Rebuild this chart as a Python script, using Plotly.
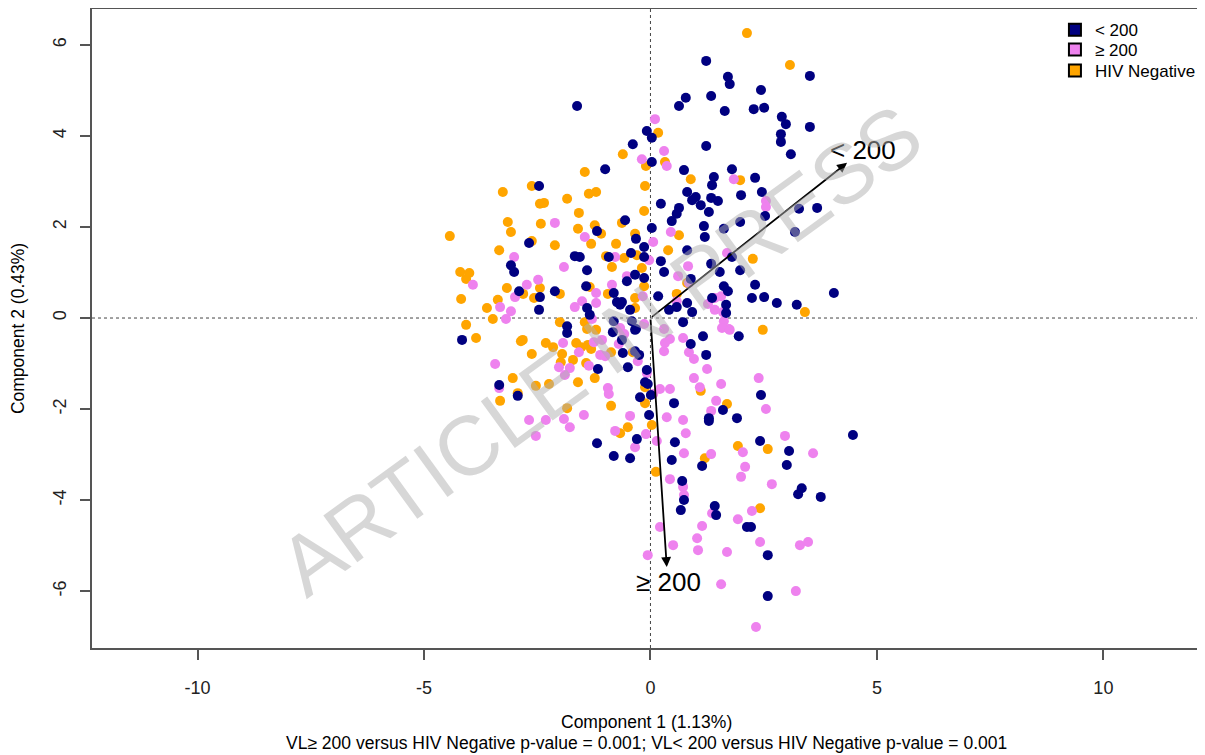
import plotly.graph_objects as go

# ---- data (Component 1, Component 2) ----
lt200_x = [-1.62, -1.00, -0.39, -0.08, 0.03, 0.03, 1.23, 3.52, 1.71, 1.75, 2.44, 1.34, 0.78, 0.63, 1.64, 2.28,
           2.51, 2.90, 2.99, 3.52, 2.88, 2.88, 3.10, 1.23, 0.74, 1.80, 1.40, 2.31, -2.46, -0.56, -1.18, -0.32,
           0.03, -2.68, -0.14, -1.67, -1.56, -0.92, -0.43, -0.14, -3.08, -3.01, -1.40, -0.52, -0.34, -0.14,
           -2.90, -2.11, -1.42, -0.81, -2.44, -0.74, -0.63, -2.46, -1.40, -0.67, -0.45, -1.34, -0.81, -0.41,
           -1.84, -0.32, -4.16, -1.84, -0.83, -0.34, -0.63, -0.61, -0.34, -0.25, -1.16, -0.50, -0.08, -0.12,
           -0.06, -3.34, -2.93, -0.23, 0.01, -0.03, -0.30, -1.18, -0.81, -0.45,
           1.36, 0.81, 1.00, 0.92, 1.34, 1.49, 2.00, 2.46, 0.23, 1.11, 0.63, 1.29, 0.58, 0.47, 3.28, 3.68,
           2.53, 1.98, 1.18, 1.62, 3.19, 1.20, 0.81, 1.80, 0.23, 1.34, 0.30, 1.53, 1.98, 0.89, 1.62, 2.31,
           1.71, 0.17, 0.81, 0.58, 0.41, 0.92, 2.24, 2.51, 2.79, 3.23, 4.05, 1.36, 1.67, 1.67, 0.72,
           1.95, 1.16, 0.89, 1.23, 2.44, 0.52, 1.60, 1.29, 1.29, 1.91, 4.47, 2.42, 0.54, 3.06, 0.47, 1.14,
           3.01, 0.70, 0.74, 0.67, 3.34, 3.26, 3.76, 1.42, 1.45, 2.13, 2.22, 2.59, 2.59]
lt200_y = [4.66, 3.27, 3.82, 4.11, 3.96, 3.43, 5.65, 5.32, 5.30, 5.14, 5.01, 4.88, 4.84, 4.66, 4.55, 4.59,
           4.62, 4.42, 4.26, 4.20, 4.04, 3.87, 3.60, 3.78, 3.25, 3.27, 3.10, 3.08, 2.90, 2.15, 1.91, 1.74,
           1.98, 1.65, 1.56, 1.36, 1.34, 1.34, 1.43, 1.34, 1.16, 1.01, 1.05, 0.81, 0.95, 0.88,
           0.59, 0.59, 0.70, 0.55, 0.46, 0.35, 0.35, 0.18, 0.22, 0.29, 0.18, 0.07, -0.07, -0.07,
           -0.18, -0.24, -0.48, -0.33, -0.31, -0.26, -0.48, -0.77, -0.73, -0.81, -1.12, -1.08, -1.14, -1.41,
           -1.45, -1.47, -1.71, -1.74, -1.69, -2.13, -2.66, -2.75, -3.03, -3.08,
           2.92, 2.77, 2.66, 2.59, 2.64, 2.57, 2.70, 2.77, 2.51, 2.48, 2.42, 2.33, 2.29, 2.13, 2.40, 2.42,
           2.24, 2.11, 2.02, 1.96, 1.89, 1.78, 1.49, 1.34, 1.25, 1.19, 1.01, 1.01, 1.05, 0.86, 0.70, 0.73,
           0.59, 0.48, 0.33, 0.24, 0.18, 0.13, 0.44, 0.46, 0.33, 0.29, 0.55, 0.44, 0.29, 0.11, -0.09,
           -0.40, -0.40, -0.57, -0.81, -1.69, -1.87, -2.02, -2.20, -2.26, -2.20, -2.57, -2.70, -2.73, -2.92, -3.12, -3.25,
           -3.23, -3.58, -4.00, -4.22, -3.74, -3.87, -3.93, -4.13, -4.33, -4.59, -4.59, -5.21, -6.11]

ge200_x = [-0.19, 0.10, 0.30, 0.36, 1.84, -2.11, -1.45, 0.06, -0.78, -0.03, -3.01, -1.91, -3.92, -2.73, -2.48,
           -0.52, -0.85, -1.20, -0.17, -2.99, -1.51, -1.20, -3.32, -3.08, -1.67, -3.19, -1.29, -0.67, -0.14,
           -0.58, -1.93, -1.25, -1.07, -1.58, -1.11, -1.00, -0.70, -3.43, -2.02, -1.78, -1.36, -0.28, -1.89,
           -0.08, -3.34, -0.94, -0.92, -1.47, -0.45, -2.68, -2.31, -1.91, -1.78, -0.78, -2.53, -0.10, -0.34,
           2.55, 2.55, 0.45, 1.69, 0.83, 0.61, 0.85, 0.58, 1.27, 1.42, 1.56, 1.42, 1.60, 1.62, 1.73,
           0.30, 1.58, 1.75, 0.43, 0.72, 0.32, 0.30, 0.85, 0.96, 1.25, 0.96, 2.39, 1.09, 1.56, 0.43, 0.21,
           0.06, 1.45, 2.55, 1.34, 0.36, 0.72, 0.78, 2.97, 0.14, 2.04, 3.59, 0.74, 1.34, 2.09, 2.00, 0.43,
           0.72, 0.74, 2.68, 2.24, 1.36, 1.93, 1.14, 0.21, 1.03, 2.42, 3.30, 3.48, 0.50, 1.05, 1.69, -0.06,
           1.56, 3.21, 2.33]
ge200_y = [3.49, 4.37, 3.67, 3.34, 3.05, 2.09, 1.78, 1.67, 1.34, 1.27, 1.34, 1.12, 0.73, 0.73, 0.84,
           0.92, 0.73, 0.55, 0.48, 0.46, 0.37, 0.33, 0.24, 0.15, 0.24, -0.02, -0.02, -0.22, -0.13,
           -0.35, -0.55, -0.53, -0.48, -0.75, -0.81, -0.84, -0.57, -1.01, -1.08, -1.10, -1.05, -0.95, -1.25,
           -1.21, -1.54, -1.54, -1.67, -2.13, -2.15, -2.24, -2.24, -2.22, -2.40, -2.48, -2.59, -2.55, -2.84,
           2.57, 2.44, 1.89, 1.43, 1.14, 0.92, 0.77, 0.37, 0.31, 0.44, 0.48, 0.18, 0.13, -0.07, -0.24,
           -0.24, -0.22, -0.26, -0.46, -0.44, -0.55, -0.73, -0.75, -0.90, -1.12, -1.32, -1.32, -1.52, -1.45, -1.56, -1.56,
           -1.67, -1.82, -2.00, -2.04, -2.18, -2.24, -2.53, -2.59, -2.70, -2.95, -2.97, -2.97, -2.99, -3.27, -3.49, -3.54,
           -3.71, -3.89, -3.65, -4.24, -4.29, -4.42, -4.57, -4.59, -4.84, -4.92, -4.99, -4.92, -4.99, -5.10, -5.14, -5.21,
           -5.85, -6.00, -6.79]

neg_x = [-1.45, -0.61, -0.10, 2.13, 3.08, 0.17, 0.32, 0.89, 1.98, -3.26, -2.62, -1.36, -1.20, -2.44, -2.35,
         -1.84, -0.12, -1.58, -0.14, -3.15, -3.08, -2.42, -0.63, -1.23, -1.09, -1.60, -0.34, -4.43, -2.62,
         -2.11, -1.31, -0.76, -3.34, -0.98, -0.30, -0.58, -0.85, -0.19, -4.20, -4.00, -4.07, -2.44, -3.17,
         -2.81, -2.00, -1.34, -0.94, -0.14, -2.57, -4.18, -3.37, -0.34, -3.61, -0.34, -3.48, -2.00, -1.45,
         -4.07, -3.85, -2.86, -2.82, -1.40, -1.20, -2.31, -2.15, -1.64, -1.53, -1.38, -1.31, -2.62, -1.95,
         -1.71, -0.87, -0.39, -1.98, -1.42, -1.23, -3.04, -1.60, -0.12, -2.53, -2.24, -2.93, -3.32, -1.84,
         -0.87, -0.12, -0.50, -0.67, 0.03,
         0.63, 0.39, 2.26, 0.81, 0.58, 3.41, 2.48, 1.11, 1.69, 1.93, 2.59, 1.20, 0.12, 2.42]
neg_y = [3.21, 3.60, 3.34, 6.26, 5.56, 4.07, 3.43, 3.05, 3.03, 2.77, 2.90, 2.73, 2.77, 2.51, 2.53,
         2.62, 2.90, 2.31, 2.35, 2.11, 1.89, 2.07, 2.09, 2.04, 1.85, 1.96, 1.85, 1.80, 1.69,
         1.60, 1.63, 1.63, 1.49, 1.36, 1.38, 1.32, 1.12, 1.10, 1.01, 0.99, 0.86, 0.66, 0.66,
         0.53, 0.53, 0.68, 0.53, 0.70, 0.44, 0.42, 0.40, 0.44, 0.22, 0.22, -0.02, -0.09, -0.09,
         -0.15, -0.44, -0.51, -0.48, -0.24, -0.26, -0.55, -0.64, -0.55, -0.64, -0.59, -0.68, -0.79, -0.79,
         -0.92, -0.75, -0.75, -0.97, -0.99, -1.32, -1.32, -1.41, -1.52, -1.49, -1.45, -1.65, -1.82, -1.98,
         -1.93, -1.87, -2.40, -2.53, -2.35,
         1.82, 1.49, 1.30, 0.77, 0.53, 0.13, -0.26, -1.60, -1.89, -2.81, -2.88, -3.08, -3.38, -4.18]

group_names = ["< 200", "\u2265 200", "HIV Negative"]
group_colors = ["#000080", "#EE82EE", "#FFA500"]

# loading arrows (end points) and their labels
arrow_labels = ["< 200", "\u2265 200"]
arrow_x = [4.34, 0.36]
arrow_y = [3.41, -5.47]
label_x = [4.69, 0.39]
label_y = [3.69, -5.80]

x_ticks = [-10, -5, 0, 5, 10]
y_ticks = [-6, -4, -2, 0, 2, 4, 6]

FONT = "Liberation Sans, Arial, sans-serif"

fig = go.Figure()

series = [(neg_x, neg_y, 2), (ge200_x, ge200_y, 1), (lt200_x, lt200_y, 0)]
for xs, ys, gi in series:
    fig.add_trace(go.Scatter(x=xs, y=ys, mode="markers", showlegend=False,
                             marker=dict(color=group_colors[gi], size=10, line=dict(width=0)),
                             name=group_names[gi]))

# legend entries (square swatches), one legend box per row for exact spacing
legend_keys = ["legend", "legend2", "legend3"]
legend_rows = [0.967, 0.936, 0.903]
for gi in range(3):
    fig.add_trace(go.Scatter(x=[None], y=[None], mode="markers", name=group_names[gi],
                             legend=legend_keys[gi], showlegend=True,
                             marker=dict(symbol="square", color=group_colors[gi], size=12,
                                         line=dict(color="black", width=1))))

# dotted reference lines
fig.add_shape(type="line", xref="x", yref="paper", x0=0, x1=0, y0=0, y1=1,
              line=dict(color="#444", width=1, dash="dot"), layer="below")
fig.add_shape(type="line", xref="paper", yref="y", x0=0, x1=1, y0=0, y1=0,
              line=dict(color="#444", width=1, dash="dot"), layer="below")

# arrows
for i in range(2):
    fig.add_annotation(x=arrow_x[i], y=arrow_y[i], ax=0, ay=0, xref="x", yref="y",
                       axref="x", ayref="y", text="", showarrow=True, arrowhead=2,
                       arrowsize=1.1, arrowwidth=1.8, arrowcolor="black")
    fig.add_annotation(x=label_x[i], y=label_y[i], xref="x", yref="y", text=arrow_labels[i],
                       showarrow=False, font=dict(family=FONT, size=26, color="black"))

# watermark
fig.add_annotation(x=-1.11, y=-0.70, xref="x", yref="y", text="ARTICLE IN PRESS",
                   showarrow=False, textangle=-36,
                   font=dict(family=FONT, size=84, color="rgba(175,175,175,0.5)"))

# x-axis title (two lines)
fig.add_annotation(x=0.4945, y=-0.116, xref="paper", yref="paper", yanchor="middle",
                   text="Component 1 (1.13%)", showarrow=False,
                   font=dict(family=FONT, size=17.5, color="black"))
fig.add_annotation(x=0.4945, y=-0.149, xref="paper", yref="paper", yanchor="middle",
                   text="VL\u2265 200 versus HIV Negative p-value = 0.001; VL< 200 versus HIV Negative p-value = 0.001",
                   showarrow=False, font=dict(family=FONT, size=17.5, color="black"))

legend_common = dict(x=0.859, xanchor="left", yanchor="middle", bgcolor="rgba(0,0,0,0)",
                     font=dict(family=FONT, size=17, color="black"), itemsizing="constant")

fig.update_layout(
    width=1205, height=755,
    margin=dict(l=84, r=0, t=1, b=115, autoexpand=False),
    paper_bgcolor="white", plot_bgcolor="white",
    font=dict(family=FONT, size=18, color="#222"),
    showlegend=True,
    legend=dict(y=legend_rows[0], **legend_common),
    legend2=dict(y=legend_rows[1], **legend_common),
    legend3=dict(y=legend_rows[2], **legend_common),
    xaxis=dict(range=[-12.33, 12.42], tickvals=x_ticks, ticktext=[str(v) for v in x_ticks],
               showgrid=False, zeroline=False, showline=True, linecolor="#555", linewidth=1.5,
               mirror=True, ticks="outside", ticklen=10, tickcolor="#555", tickwidth=1.5,
               ticklabelstandoff=13, tickfont=dict(family=FONT, size=18, color="#222")),
    yaxis=dict(range=[-7.25, 6.79], tickvals=y_ticks, ticktext=[str(v) for v in y_ticks],
               showgrid=False, zeroline=False, showline=True, linecolor="#555", linewidth=1.5,
               mirror=False, ticks="outside", ticklen=10, tickcolor="#555", tickwidth=1.5,
               tickangle=-90, ticklabelstandoff=7,
               tickfont=dict(family=FONT, size=18, color="#222"),
               title=dict(text="Component 2 (0.43%)", font=dict(family=FONT, size=17.5, color="black"),
                          standoff=21)),
)

fig.write_html("out.html")
